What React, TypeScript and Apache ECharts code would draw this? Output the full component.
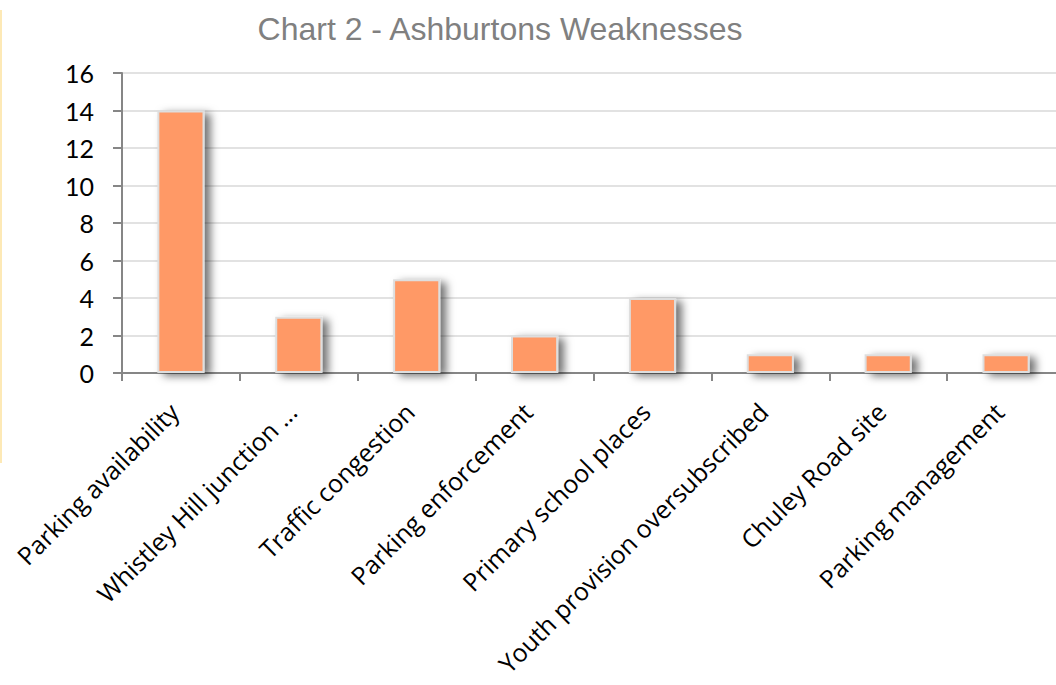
import React, { useEffect, useRef } from "react";
import * as echarts from "echarts";

const categories = [
  "Parking availability",
  "Whistley Hill junction ...",
  "Traffic congestion",
  "Parking enforcement",
  "Primary school places",
  "Youth provision oversubscribed",
  "Chuley Road site",
  "Parking management",
];
const counts = [14, 3, 5, 2, 4, 1, 1, 1];
const titleText = "Chart 2 - Ashburtons Weaknesses";

export default function App() {
  const ref = useRef<HTMLDivElement>(null);

  useEffect(() => {
    if (!ref.current) return;
    const chart = echarts.init(ref.current, null, { renderer: "svg" });
    chart.setOption({
      animation: false,
      backgroundColor: "#ffffff",
      title: {
        text: titleText,
        left: 495,
        top: 8,
        textAlign: "center",
        textStyle: {
          fontFamily: "Liberation Sans, Arial, sans-serif",
          fontSize: 32,
          fontWeight: "normal",
          color: "#808080",
        },
      },
      graphic: [
        {
          type: "rect",
          left: 0,
          top: 10,
          shape: { width: 2, height: 453 },
          style: { fill: "#fde9b6" },
        },
      ],
      grid: {
        left: 122,
        top: 73,
        bottom: 312,
        width: 943,
        containLabel: false,
        outerBoundsMode: "none",
      },
      xAxis: {
        type: "category",
        data: categories,
        boundaryGap: true,
        axisLine: { lineStyle: { color: "#868686", width: 2 } },
        axisTick: { show: true, length: 8, lineStyle: { color: "#868686", width: 2 } },
        axisLabel: {
          rotate: 45,
          interval: 0,
          margin: 27,
          padding: [0, 10, 0, 0],
          fontFamily: "'Open Sans', Lato, sans-serif",
          fontSize: 25,
          color: "#000000",
        },
      },
      yAxis: {
        type: "value",
        min: 0,
        max: 16,
        interval: 2,
        axisLine: { show: true, lineStyle: { color: "#868686", width: 2 } },
        axisTick: { show: true, length: 9, lineStyle: { color: "#868686", width: 2 } },
        splitLine: { lineStyle: { color: "#d9d9d9", width: 1.5 } },
        axisLabel: {
          margin: 28,
          fontFamily: "Lato, 'Open Sans', sans-serif",
          fontSize: 25,
          color: "#000000",
        },
      },
      series: [
        {
          type: "bar",
          data: counts,
          barWidth: "40%",
          itemStyle: {
            color: "#ff9966",
            borderColor: "#dedede",
            borderWidth: 2,
            shadowColor: "rgba(0,0,0,0.55)",
            shadowBlur: 9,
            shadowOffsetX: 6,
            shadowOffsetY: 3,
          },
        },
      ],
    });
    return () => chart.dispose();
  }, []);

  return (
    <div
      ref={ref}
      style={{ position: "absolute", left: 0, top: 0, width: 1056, height: 685 }}
    />
  );
}
